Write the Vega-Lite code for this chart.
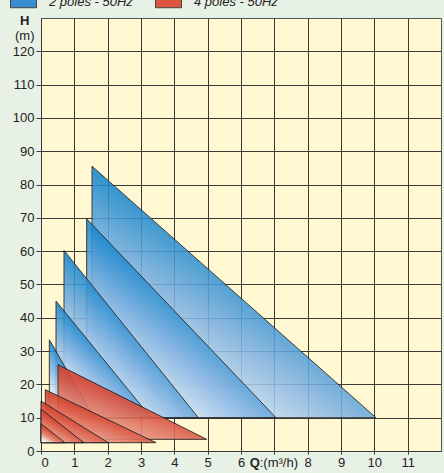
{
  "$schema": "https://vega.github.io/schema/vega-lite/v6.json",
  "autosize": "none",
  "width": 400,
  "height": 433,
  "padding": {"left": 41, "top": 18, "right": 3, "bottom": 22},
  "background": "#e8f1e5",
  "config": {
    "font": "Liberation Sans",
    "view": {"fill": "#fff8d3", "stroke": "#555555", "strokeWidth": 1}
  },
  "data": {
    "values": [
      {"id": "b1", "group": "2 poles - 50Hz", "q": 1.53, "h": 85.5, "h0": 10},
      {"id": "b1", "group": "2 poles - 50Hz", "q": 10.05, "h": 10, "h0": 10},
      {"id": "b2", "group": "2 poles - 50Hz", "q": 1.37, "h": 69.7, "h0": 10},
      {"id": "b2", "group": "2 poles - 50Hz", "q": 7.05, "h": 10, "h0": 10},
      {"id": "b3", "group": "2 poles - 50Hz", "q": 0.69, "h": 60.2, "h0": 10},
      {"id": "b3", "group": "2 poles - 50Hz", "q": 4.72, "h": 10, "h0": 10},
      {"id": "b4", "group": "2 poles - 50Hz", "q": 0.45, "h": 45, "h0": 10},
      {"id": "b4", "group": "2 poles - 50Hz", "q": 3.3, "h": 10, "h0": 10},
      {"id": "b5", "group": "2 poles - 50Hz", "q": 0.25, "h": 33.4, "h0": 10},
      {"id": "b5", "group": "2 poles - 50Hz", "q": 1.6, "h": 10, "h0": 10},
      {"id": "r1", "group": "4 poles - 50Hz", "q": 0.51, "h": 25.9, "h0": 3.5},
      {"id": "r1", "group": "4 poles - 50Hz", "q": 4.97, "h": 3.5, "h0": 3.5},
      {"id": "r2", "group": "4 poles - 50Hz", "q": 0.13, "h": 18.4, "h0": 2.5},
      {"id": "r2", "group": "4 poles - 50Hz", "q": 3.45, "h": 2.5, "h0": 2.5},
      {"id": "r3", "group": "4 poles - 50Hz", "q": 0, "h": 15, "h0": 2.5},
      {"id": "r3", "group": "4 poles - 50Hz", "q": 2.02, "h": 2.5, "h0": 2.5},
      {"id": "r4", "group": "4 poles - 50Hz", "q": 0, "h": 12.6, "h0": 2.5},
      {"id": "r4", "group": "4 poles - 50Hz", "q": 1.29, "h": 2.5, "h0": 2.5},
      {"id": "r5", "group": "4 poles - 50Hz", "q": 0, "h": 8.2, "h0": 2.5},
      {"id": "r5", "group": "4 poles - 50Hz", "q": 0.72, "h": 2.5, "h0": 2.5}
    ]
  },
  "encoding": {
    "x": {
      "field": "q",
      "type": "quantitative",
      "scale": {"domain": [0, 12], "nice": false},
      "axis": {
        "title": null,
        "values": [0, 1, 2, 3, 4, 5, 6, 7, 8, 9, 10, 11, 6.4, 7.12],
        "labelExpr": "datum.value == 7 ? '' : datum.value == 6.4 ? 'Q' : datum.value == 7.12 ? ':(m³/h)' : datum.label",
        "labelOverlap": false,
        "labelFontSize": 13,
        "labelColor": "#222222",
        "labelFontWeight": {"condition": {"test": "datum.value == 6.4", "value": "bold"}, "value": "normal"},
        "labelPadding": 2,
        "domain": false,
        "grid": true,
        "gridColor": "#3a3a3a",
        "gridOpacity": {"condition": {"test": "datum.value == 6.4 || datum.value == 7.12", "value": 0}, "value": 1},
        "tickColor": "#3a3a3a",
        "tickSize": 3,
        "tickOpacity": {"condition": {"test": "datum.value == 6.4 || datum.value == 7.12", "value": 0}, "value": 1}
      }
    },
    "y": {
      "field": "h",
      "type": "quantitative",
      "scale": {"domain": [0, 130], "nice": false},
      "axis": {
        "title": null,
        "values": [0, 10, 20, 30, 40, 50, 60, 70, 80, 90, 100, 110, 120, 124.6, 129.3],
        "labelExpr": "datum.value == 129.3 ? 'H' : datum.value == 124.6 ? '(m)' : datum.label",
        "labelOverlap": false,
        "labelFontSize": 13,
        "labelColor": "#222222",
        "labelFontWeight": {"condition": {"test": "datum.value == 129.3", "value": "bold"}, "value": "normal"},
        "labelPadding": {"condition": {"test": "datum.value == 129.3", "value": 7}, "value": 2},
        "domain": false,
        "grid": true,
        "gridColor": "#3a3a3a",
        "gridOpacity": {"condition": {"test": "datum.value > 121", "value": 0}, "value": 1},
        "tickColor": "#3a3a3a",
        "tickSize": 5,
        "tickOpacity": {"condition": {"test": "datum.value > 121", "value": 0}, "value": 1}
      }
    }
  },
  "layer": [
    {
      "transform": [{"filter": "datum.group == '2 poles - 50Hz'"}],
      "mark": {
        "type": "area",
        "opacity": 0.88,
        "stroke": "#222222",
        "strokeWidth": 1,
        "color": {
          "gradient": "linear",
          "x1": 0.6, "y1": 0.2, "x2": 0, "y2": 1,
          "stops": [
            {"offset": 0, "color": "#0a7cc4"},
            {"offset": 0.22, "color": "#1a88cd"},
            {"offset": 0.45, "color": "#80b2e1"},
            {"offset": 0.8, "color": "#ffffff"},
            {"offset": 1, "color": "#ffffff"}
          ]
        }
      },
      "encoding": {
        "y2": {"field": "h0"},
        "detail": {"field": "id"}
      }
    },
    {
      "transform": [{"filter": "datum.group == '4 poles - 50Hz'"}],
      "mark": {
        "type": "area",
        "opacity": 0.9,
        "stroke": "#222222",
        "strokeWidth": 1,
        "color": {
          "gradient": "linear",
          "x1": 0.6, "y1": 0.2, "x2": 0, "y2": 1,
          "stops": [
            {"offset": 0, "color": "#c4301f"},
            {"offset": 0.3, "color": "#d84a36"},
            {"offset": 0.6, "color": "#e58a78"},
            {"offset": 0.9, "color": "#ffffff"},
            {"offset": 1, "color": "#ffffff"}
          ]
        }
      },
      "encoding": {
        "y2": {"field": "h0"},
        "detail": {"field": "id"}
      }
    },
    {
      "transform": [{"filter": "datum.h == datum.h0"}],
      "mark": {"type": "square", "opacity": 0},
      "encoding": {
        "color": {
          "field": "group",
          "type": "nominal",
          "scale": {
            "domain": ["2 poles - 50Hz", "4 poles - 50Hz"],
            "range": ["#3a8dd0", "#dc5540"]
          },
          "legend": {
            "title": null,
            "orient": "none",
            "direction": "horizontal",
            "legendX": -31,
            "legendY": -30,
            "padding": 0,
            "symbolType": "M-1,-0.46H1V0.46H-1Z",
            "symbolSize": 676,
            "symbolOpacity": 1,
            "symbolStrokeColor": "#444444",
            "symbolStrokeWidth": 1,
            "labelFontSize": 13,
            "labelFontStyle": "italic",
            "labelColor": "#222222",
            "labelOffset": 12,
            "columnPadding": 20
          }
        }
      }
    }
  ]
}
